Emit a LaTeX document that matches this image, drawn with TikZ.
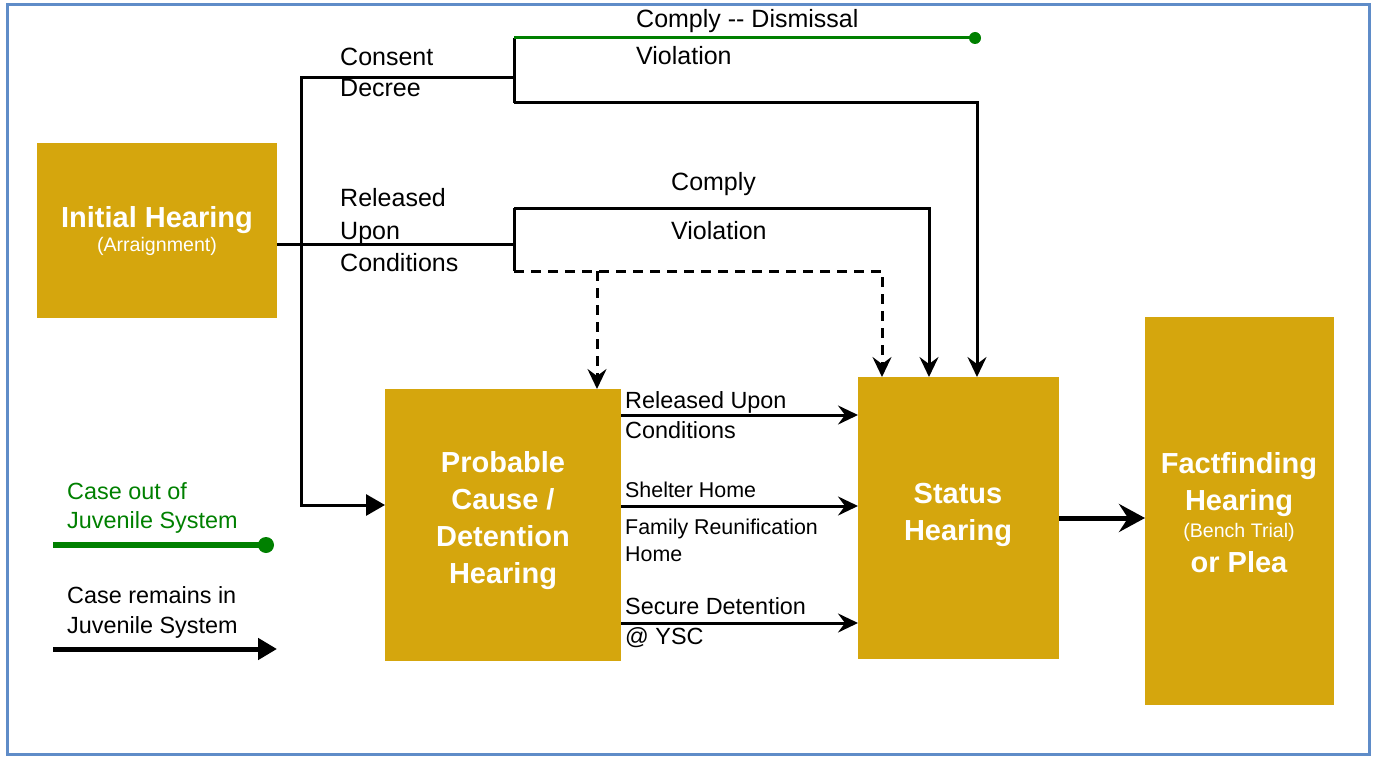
\documentclass[tikz,border=0pt]{standalone}
\usepackage{fontspec}
\setmainfont{Liberation Sans}
\usetikzlibrary{arrows.meta}
\definecolor{gold}{RGB}{213,166,13}
\definecolor{dgreen}{RGB}{0,128,0}
\definecolor{frameblue}{RGB}{95,140,200}
\begin{document}
\begin{tikzpicture}[x=1pt,y=-1pt,
  box/.style={fill=gold,draw=none,inner sep=0pt,anchor=north west},
  ttl/.style={text=white,font=\fontsize{29}{35}\selectfont\bfseries,anchor=base,inner sep=0pt},
  sub/.style={text=white,font=\fontsize{19.6}{24}\selectfont,anchor=base,inner sep=0pt},
  lbl/.style={font=\fontsize{25}{30}\selectfont,anchor=base west,inner sep=0pt},
  slbl/.style={font=\fontsize{23.4}{28}\selectfont,anchor=base west,inner sep=0pt},
  xslbl/.style={font=\fontsize{21.4}{26}\selectfont,anchor=base west,inner sep=0pt},
  ln/.style={draw=black,line width=3pt},
  dln/.style={draw=black,line width=3pt,dash pattern=on 10pt off 7pt},
  gln/.style={draw=dgreen,line width=3pt},
  arr/.style={-{Stealth[length=20pt,width=19pt,inset=7pt]}},
  tri/.style={-{Triangle[length=19pt,width=21pt]}},
  bigarr/.style={-{Stealth[length=26pt,width=28pt,inset=9pt]}},
]
\useasboundingbox (0,0) rectangle (1376,757);
\draw[frameblue,line width=3pt] (7,5) rectangle (1369,754);

% boxes
\node[box,minimum width=240pt,minimum height=175pt] (ih) at (37,143) {};
\node[box,minimum width=236pt,minimum height=272pt] (pc) at (385,389) {};
\node[box,minimum width=201pt,minimum height=282pt] (st) at (858,377) {};
\node[box,minimum width=189pt,minimum height=388pt] (ff) at (1145,317) {};

% box texts
\node[ttl] (iht1) at (157,227) {Initial Hearing};
\node[sub] (iht2) at (157,251) {(Arraignment)};
\node[ttl] (pct1) at (503,472) {Probable};
\node[ttl] (pct2) at (503,509) {Cause /};
\node[ttl] (pct3) at (503,546) {Detention};
\node[ttl] (pct4) at (503,583) {Hearing};
\node[ttl] (stt1) at (958,503) {Status};
\node[ttl] (stt2) at (958,540) {Hearing};
\node[ttl] (fft1) at (1239,473) {Factfinding};
\node[ttl] (fft2) at (1239,510) {Hearing};
\node[sub] (fft3) at (1239,537) {(Bench Trial)};
\node[ttl] (fft4) at (1239,572) {or Plea};

% junction coordinates
\coordinate (jc) at (514,244);
\coordinate (jt) at (514,78);
\coordinate (a2) at (301,505);
\coordinate (t1) at (514,38);
\coordinate (t2) at (514,103);
\coordinate (ge) at (975,38);
\coordinate (m1) at (514,208);
\coordinate (m2) at (514,271);
\coordinate (ds) at (597,271);
\coordinate (x1) at (882,0);
\coordinate (x2) at (929,0);
\coordinate (x3) at (977,0);
\coordinate (r1) at (0,415);
\coordinate (r2) at (0,506);
\coordinate (r3) at (0,623);
\coordinate (r4) at (0,518);

% connectors
\draw[ln] (ih.east |- jc) -- (jc);
\draw[ln,tri] (jt) -| (a2) -- (pc.west |- a2);
\draw[ln] (t1) -- (t2);
\draw[ln] (m1) -- (m2);
\draw[gln] (t1) -- (ge);
\fill[dgreen] (ge) circle (6pt);
\draw[ln,arr] (t2) -| (st.north -| x3);
\draw[ln,arr] (m1) -| (st.north -| x2);
\draw[dln,arr] (m2) -| (st.north -| x1);
\draw[dln,arr] (ds) -- (pc.north -| ds);
\draw[ln,arr] (pc.east |- r1) -- (st.west |- r1);
\draw[ln,arr] (pc.east |- r2) -- (st.west |- r2);
\draw[ln,arr] (pc.east |- r3) -- (st.west |- r3);
\draw[line width=5pt,bigarr] (st.east |- r4) -- (ff.west |- r4);

% labels
\node[lbl] (cd1) at (340,66) {Consent};
\node[lbl] (cd2) at (340,97) {Decree};
\node[lbl] (cdc) at (636,28) {Comply -{}- Dismissal};
\node[lbl] (cdv) at (636,65) {Violation};
\node[lbl] (ru1) at (340,206) {Released};
\node[lbl] (ru2) at (340,239) {Upon};
\node[lbl] (ru3) at (340,271) {Conditions};
\node[lbl] (ruc) at (671,190) {Comply};
\node[lbl] (ruv) at (671,239) {Violation};
\node[slbl] (o1a) at (625,408) {Released Upon};
\node[slbl] (o1b) at (625,438) {Conditions};
\node[xslbl] (o2a) at (625,497) {Shelter Home};
\node[xslbl] (o2b) at (625,534) {Family Reunification};
\node[xslbl] (o2c) at (625,561) {Home};
\node[slbl] (o3a) at (625,614) {Secure Detention};
\node[slbl] (o3b) at (625,644) {@ YSC};

% legend
\node[slbl,text=dgreen] (lg1t) at (67,499) {Case out of};
\node[slbl,text=dgreen] (lg2t) at (67,528) {Juvenile System};
\coordinate (lga) at (53,545);
\coordinate (lgb) at (266,545);
\draw[draw=dgreen,line width=5.5pt] (lga) -- (lgb);
\fill[dgreen] (lgb) circle (8pt);
\node[slbl] (lb1t) at (67,603) {Case remains in};
\node[slbl] (lb2t) at (67,633) {Juvenile System};
\coordinate (lba) at (53,649);
\coordinate (lbb) at (277,649);
\draw[line width=5pt,tri] (lba) -- (lbb);
\end{tikzpicture}
\end{document}
